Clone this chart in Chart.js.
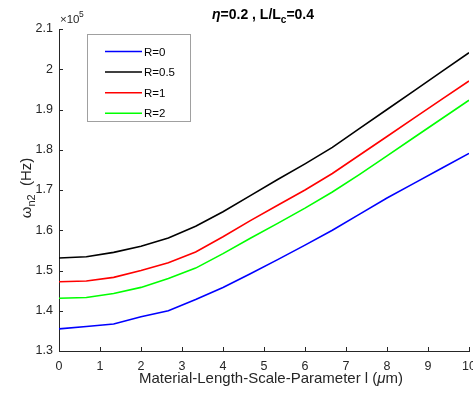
<!DOCTYPE html>
<html>
<head>
<meta charset="utf-8">
<script src="https://cdn.jsdelivr.net/npm/chart.js@4/dist/chart.umd.min.js"></script>
<style>
  html, body { margin: 0; padding: 0; background: #fff; }
  #wrap { width: 473px; height: 395px; }
</style>
</head>
<body>
<div id="wrap"><canvas id="freqChart"></canvas></div>
<script>
// length scale parameter l (um)
const lengthParam = [0, 0.667, 1.333, 2, 2.667, 3.333, 4, 4.667, 5.333, 6, 6.667, 7.333, 8, 8.667, 9.333, 10];
// omega_n2 in units of 1e5 Hz
const omegaR0 = [1.355, 1.361, 1.367, 1.385, 1.400, 1.428, 1.458, 1.492, 1.527, 1.563, 1.600, 1.640, 1.680, 1.717, 1.754, 1.791];
const omegaR05 = [1.531, 1.534, 1.545, 1.560, 1.581, 1.610, 1.646, 1.686, 1.726, 1.765, 1.806, 1.853, 1.900, 1.947, 1.994, 2.041];
const omegaR1 = [1.472, 1.474, 1.483, 1.500, 1.519, 1.546, 1.584, 1.624, 1.662, 1.700, 1.741, 1.787, 1.833, 1.879, 1.925, 1.971];
const omegaR2 = [1.431, 1.433, 1.443, 1.458, 1.480, 1.506, 1.542, 1.580, 1.617, 1.655, 1.695, 1.739, 1.785, 1.831, 1.877, 1.923];
const seriesLabels = ["R=0", "R=0.5", "R=1", "R=2"];
const seriesColors = ["#0000ff", "#000000", "#ff0000", "#00ff00"];
const xTicks = [0, 1, 2, 3, 4, 5, 6, 7, 8, 9, 10];
const yTicks = [1.3, 1.4, 1.5, 1.6, 1.7, 1.8, 1.9, 2, 2.1];

const FONT = "'Liberation Sans', Arial, sans-serif";
const AXIS_COL = "#262626";

function pts(ys) {
    return lengthParam.map((x, i) => ({ x: x, y: ys[i] }));
}

const allSeries = [omegaR0, omegaR05, omegaR1, omegaR2];

// inward ticks, legend box, titles
const decorPlugin = {
    id: "decor",
    afterDraw(chart) {
        const ctx = chart.ctx;
        const xs = chart.scales.x, ys = chart.scales.y;
        const area = chart.chartArea;
        ctx.save();
        ctx.strokeStyle = AXIS_COL;
        ctx.lineWidth = 1;
        ctx.beginPath();
        xTicks.forEach(v => {
            const px = Math.round(xs.getPixelForValue(v)) + 0.5;
            ctx.moveTo(px, area.bottom);
            ctx.lineTo(px, area.bottom - 4);
        });
        yTicks.forEach(v => {
            const py = Math.round(ys.getPixelForValue(v)) + 0.5;
            ctx.moveTo(area.left, py);
            ctx.lineTo(area.left + 4, py);
        });
        ctx.stroke();

        // legend
        const lx = 87.5, ly = 34.5, lw = 103, lh = 87;
        ctx.fillStyle = "#fff";
        ctx.fillRect(lx, ly, lw, lh);
        ctx.strokeStyle = "#a0a0a0";
        ctx.strokeRect(lx, ly, lw, lh);
        ctx.font = "11.5px " + FONT;
        ctx.textBaseline = "middle";
        ctx.textAlign = "left";
        chart.data.datasets.forEach((ds, i) => {
            const rowY = 51.5 + i * 20.6;
            ctx.strokeStyle = ds.borderColor;
            ctx.lineWidth = 1.5;
            ctx.beginPath();
            ctx.moveTo(105, rowY);
            ctx.lineTo(142, rowY);
            ctx.stroke();
            ctx.fillStyle = "#000";
            ctx.fillText(ds.label, 144, rowY + 1);
        });

        // exponent
        ctx.fillStyle = AXIS_COL;
        ctx.textBaseline = "alphabetic";
        ctx.font = "11.5px " + FONT;
        ctx.fillText("\u00d710", 60, 23);
        ctx.font = "8.5px " + FONT;
        ctx.fillText("5", 60 + ctx.measureText("\u00d7").width + 14, 17);

        // title
        ctx.fillStyle = "#000";
        const tparts = [
            { t: "\u03b7", f: "italic bold 14px " + FONT, dy: 0 },
            { t: "=0.2 , L/L", f: "bold 14px " + FONT, dy: 0 },
            { t: "c", f: "bold 10px " + FONT, dy: 4 },
            { t: "=0.4", f: "bold 14px " + FONT, dy: 0 }
        ];
        let tw = 0;
        tparts.forEach(p => { ctx.font = p.f; p.w = ctx.measureText(p.t).width; tw += p.w; });
        let tx = 263 - tw / 2;
        tparts.forEach(p => { ctx.font = p.f; ctx.fillText(p.t, tx, 19 + p.dy); tx += p.w; });

        // x axis title
        ctx.fillStyle = AXIS_COL;
        const xparts = [
            { t: "Material-Length-Scale-Parameter l (", f: "15px " + FONT },
            { t: "\u03bc", f: "italic 15px " + FONT },
            { t: "m)", f: "15px " + FONT }
        ];
        let xw = 0;
        xparts.forEach(p => { ctx.font = p.f; p.w = ctx.measureText(p.t).width; xw += p.w; });
        let xx = 271 - xw / 2;
        xparts.forEach(p => { ctx.font = p.f; ctx.fillText(p.t, xx, 383); xx += p.w; });

        // y axis title
        ctx.translate(31, 188);
        ctx.rotate(-Math.PI / 2);
        const yparts = [
            { t: "\u03c9", f: "15px " + FONT, dy: 0 },
            { t: "n2", f: "11px " + FONT, dy: 4 },
            { t: "  (Hz)", f: "15px " + FONT, dy: 0 }
        ];
        let yw = 0;
        yparts.forEach(p => { ctx.font = p.f; p.w = ctx.measureText(p.t).width; yw += p.w; });
        let yx = -yw / 2;
        yparts.forEach(p => { ctx.font = p.f; ctx.fillText(p.t, yx, p.dy); yx += p.w; });
        ctx.restore();
    }
};

new Chart(document.getElementById("freqChart"), {
    type: "line",
    data: {
        datasets: allSeries.map((s, i) => ({
            label: seriesLabels[i],
            data: pts(s),
            borderColor: seriesColors[i],
            borderWidth: 1.6,
            pointRadius: 0,
            tension: 0,
            fill: false
        }))
    },
    options: {
        responsive: true,
        maintainAspectRatio: false,
        animation: false,
        layout: { autoPadding: false, padding: { left: 0, top: 29, right: 4, bottom: 0 } },
        plugins: { legend: { display: false }, tooltip: { enabled: false } },
        scales: {
            x: {
                type: "linear",
                min: 0,
                max: 10,
                afterFit(scale) {
                    scale.height = 44;
                    scale.paddingLeft = 0;
                    scale.paddingRight = 0;
                },
                afterBuildTicks(scale) { scale.ticks = xTicks.map(v => ({ value: v })); },
                grid: { display: false, drawTicks: false },
                border: { display: true, color: AXIS_COL, width: 1 },
                ticks: { color: AXIS_COL, padding: 8, maxRotation: 0, autoSkip: false, font: { family: FONT, size: 12.5 } }
            },
            y: {
                min: 1.3,
                max: 2.1,
                afterFit(scale) {
                    scale.width = 59;
                    scale.paddingTop = 0;
                    scale.paddingBottom = 0;
                },
                afterBuildTicks(scale) { scale.ticks = yTicks.map(v => ({ value: v })); },
                grid: { display: false, drawTicks: false },
                border: { display: true, color: AXIS_COL, width: 1 },
                ticks: {
                    color: AXIS_COL,
                    padding: 6,
                    autoSkip: false,
                    font: { family: FONT, size: 12.5 },
                    callback: v => String(Math.round(v * 10) / 10)
                }
            }
        }
    },
    plugins: [decorPlugin]
});
</script>
</body>
</html>
